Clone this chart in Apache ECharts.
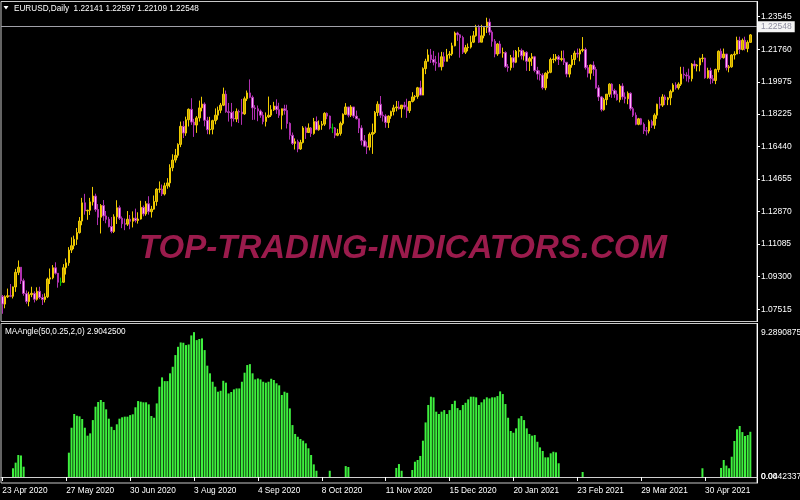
<!DOCTYPE html>
<html>
<head>
<meta charset="utf-8">
<script src="https://cdn.jsdelivr.net/npm/echarts@6/dist/echarts.min.js"></script>
<style>
html,body{margin:0;padding:0;background:#000;}
#chart{width:800px;height:500px;}
</style>
</head>
<body>
<div id="chart"></div>
<script>
// ---- calendar (trading days; broker closed on these two dates) ----
const firstDay = [2020, 3, 23];
const closedDays = ['2020-12-25', '2021-01-01'];
const slotCount = 284;
const monthNames = ['Jan','Feb','Mar','Apr','May','Jun','Jul','Aug','Sep','Oct','Nov','Dec'];

// ---- EURUSD daily candles ----
const opens = [
1.0822,1.0780,1.0820,1.0826,1.0823,1.0874,1.0954,1.0982,1.0908,1.0838,
1.0794,1.0832,1.0839,1.0806,1.0850,1.0816,1.0805,1.0820,1.0917,1.0924,
1.0979,1.0949,1.0900,1.0900,1.0979,1.1006,1.1076,1.1100,1.1135,1.1172,
1.1235,1.1335,1.1291,1.1294,1.1340,1.1372,1.1298,1.1256,1.1320,1.1263,
1.1245,1.1205,1.1178,1.1258,1.1308,1.1250,1.1220,1.1218,1.1245,1.1234,
1.1251,1.1238,1.1246,1.1310,1.1274,1.1330,1.1286,1.1300,1.1342,1.1409,
1.1410,1.1383,1.1428,1.1444,1.1527,1.1569,1.1595,1.1655,1.1754,1.1717,
1.1790,1.1847,1.1777,1.1761,1.1800,1.1855,1.1876,1.1787,1.1735,1.1738,
1.1785,1.1815,1.1842,1.1870,1.1930,1.1834,1.1830,1.1797,1.1794,1.1835,
1.1832,1.1822,1.1905,1.1937,1.1913,1.1855,1.1850,1.1838,1.1815,1.1780,
1.1805,1.1815,1.1845,1.1865,1.1845,1.1815,1.1850,1.1840,1.1770,1.1705,
1.1660,1.1670,1.1630,1.1665,1.1745,1.1720,1.1745,1.1715,1.1780,1.1735,
1.1760,1.1766,1.1825,1.1810,1.1745,1.1745,1.1705,1.1715,1.1770,1.1820,
1.1860,1.1815,1.1860,1.1810,1.1795,1.1745,1.1675,1.1645,1.1640,1.1710,
1.1720,1.1830,1.1875,1.1815,1.1810,1.1775,1.1810,1.1835,1.1855,1.1860,
1.1850,1.1870,1.1860,1.1840,1.1890,1.1915,1.1918,1.1965,1.1925,1.2070,
1.2110,1.2145,1.2120,1.2105,1.2100,1.2080,1.2135,1.2110,1.2145,1.2150,
1.2195,1.2265,1.2255,1.2240,1.2160,1.2185,1.2188,1.2215,1.2250,1.2295,
1.2215,1.2250,1.2295,1.2325,1.2270,1.2220,1.2150,1.2205,1.2155,1.2158,
1.2080,1.2075,1.2130,1.2105,1.2165,1.2170,1.2140,1.2160,1.2110,1.2125,
1.2135,1.2060,1.2040,1.2035,1.1965,1.2045,1.2050,1.2120,1.2123,1.2135,
1.2120,1.2125,1.2105,1.2040,1.2090,1.2120,1.2155,1.2150,1.2170,1.2175,
1.2075,1.2045,1.2090,1.2065,1.1965,1.1915,1.1845,1.1900,1.1930,1.1985,
1.1950,1.1930,1.1900,1.1975,1.1915,1.1905,1.1935,1.1850,1.1815,1.1765,
1.1795,1.1765,1.1730,1.1728,1.1780,1.1760,1.1815,1.1875,1.1870,1.1915,
1.1900,1.1910,1.1945,1.1980,1.1965,1.1985,1.2040,1.2035,1.2030,1.2015,
1.2095,1.2085,1.2090,1.2125,1.2128,1.2020,1.2060,1.2015,1.2005,1.2065,
1.2165,1.2130,1.2150,1.2075,1.2080,1.2145,1.2150,1.2225,1.2175,1.2225,
1.2180,1.22141];
const highs = [
1.0830,1.0828,1.0865,1.0890,1.0876,1.0973,1.1019,1.0982,1.0920,1.0855,
1.0848,1.0875,1.0850,1.0872,1.0875,1.0834,1.0839,1.0925,1.0975,1.0994,
1.1009,1.0950,1.0925,1.0999,1.1030,1.1092,1.1146,1.1155,1.1197,1.1257,
1.1362,1.1384,1.1297,1.1362,1.1422,1.1385,1.1328,1.1328,1.1350,1.1290,
1.1258,1.1257,1.1272,1.1349,1.1320,1.1260,1.1249,1.1290,1.1268,1.1288,
1.1303,1.1283,1.1346,1.1320,1.1344,1.1371,1.1318,1.1375,1.1415,1.1452,
1.1435,1.1445,1.1470,1.1546,1.1601,1.1630,1.1661,1.1780,1.1782,1.1807,
1.1852,1.1908,1.1795,1.1810,1.1895,1.1916,1.1885,1.1806,1.1806,1.1790,
1.1852,1.1862,1.1882,1.1966,1.1950,1.1882,1.1882,1.1838,1.1852,1.1845,
1.1904,1.1917,1.1950,1.2011,1.1923,1.1870,1.1868,1.1846,1.1833,1.1830,
1.1917,1.1870,1.1888,1.1902,1.1883,1.1851,1.1872,1.1872,1.1776,1.1720,
1.1688,1.1681,1.1680,1.1755,1.1753,1.1770,1.1750,1.1800,1.1808,1.1786,
1.1783,1.1831,1.1830,1.1813,1.1769,1.1750,1.1740,1.1780,1.1825,1.1881,
1.1860,1.1870,1.1860,1.1840,1.1795,1.1760,1.1706,1.1670,1.1720,1.1769,
1.1838,1.1891,1.1920,1.1835,1.1820,1.1814,1.1840,1.1872,1.1893,1.1892,
1.1867,1.1888,1.1905,1.1893,1.1941,1.1925,1.1970,1.2004,1.2077,1.2124,
1.2176,1.2178,1.2167,1.2140,1.2158,1.2162,1.2160,1.2178,1.2166,1.2212,
1.2273,1.2272,1.2259,1.2250,1.2200,1.2208,1.2250,1.2276,1.2310,1.2310,
1.2310,1.2300,1.2349,1.2344,1.2280,1.2232,1.2210,1.2222,1.2185,1.2165,
1.2095,1.2145,1.2170,1.2172,1.2188,1.2180,1.2170,1.2165,1.2135,1.2155,
1.2140,1.2080,1.2060,1.2045,1.2050,1.2060,1.2130,1.2150,1.2150,1.2145,
1.2168,1.2170,1.2105,1.2094,1.2145,1.2168,1.2180,1.2180,1.2243,1.2185,
1.2090,1.2092,1.2110,1.2080,1.1980,1.1920,1.1910,1.1930,1.1990,1.1990,
1.1960,1.1950,1.1985,1.1990,1.1940,1.1945,1.1940,1.1860,1.1830,1.1800,
1.1800,1.1775,1.1750,1.1790,1.1790,1.1825,1.1878,1.1915,1.1930,1.1927,
1.1915,1.1955,1.1990,1.1995,1.1995,1.2080,1.2080,1.2050,1.2070,1.2100,
1.2115,1.2095,1.2130,1.2150,1.2130,1.2075,1.2075,1.2035,1.2070,1.2170,
1.2180,1.2180,1.2150,1.2090,1.2150,1.2165,1.2245,1.2245,1.2235,1.2245,
1.2225,1.22597];
const lows = [
1.0727,1.0757,1.0813,1.0818,1.0811,1.0847,1.0939,1.0890,1.0826,1.0782,
1.0768,1.0818,1.0789,1.0799,1.0807,1.0775,1.0789,1.0813,1.0890,1.0916,
1.0942,1.0870,1.0880,1.0896,1.0942,1.0990,1.1060,1.1081,1.1104,1.1166,
1.1212,1.1270,1.1242,1.1268,1.1320,1.1286,1.1213,1.1167,1.1236,1.1223,
1.1200,1.1168,1.1170,1.1219,1.1241,1.1196,1.1185,1.1208,1.1190,1.1200,
1.1227,1.1221,1.1243,1.1261,1.1264,1.1270,1.1254,1.1297,1.1319,1.1390,
1.1372,1.1375,1.1412,1.1420,1.1508,1.1555,1.1582,1.1640,1.1690,1.1702,
1.1753,1.1762,1.1696,1.1718,1.1780,1.1836,1.1754,1.1711,1.1710,1.1710,
1.1765,1.1790,1.1826,1.1865,1.1828,1.1780,1.1753,1.1780,1.1777,1.1772,
1.1762,1.1817,1.1893,1.1908,1.1789,1.1790,1.1782,1.1801,1.1765,1.1753,
1.1800,1.1805,1.1838,1.1822,1.1800,1.1737,1.1818,1.1742,1.1681,1.1652,
1.1627,1.1612,1.1625,1.1660,1.1685,1.1718,1.1696,1.1708,1.1735,1.1730,
1.1735,1.1756,1.1793,1.1737,1.1717,1.1689,1.1700,1.1703,1.1760,1.1817,
1.1803,1.1805,1.1800,1.1792,1.1717,1.1650,1.1640,1.1602,1.1622,1.1603,
1.1712,1.1810,1.1800,1.1780,1.1746,1.1745,1.1795,1.1814,1.1836,1.1846,
1.1801,1.1846,1.1800,1.1827,1.1885,1.1895,1.1905,1.1924,1.1925,1.2040,
1.2110,1.2101,1.2088,1.2058,1.2078,1.2060,1.2080,1.2110,1.2125,1.2140,
1.2192,1.2222,1.2130,1.2150,1.2150,1.2165,1.2180,1.2210,1.2245,1.2210,
1.2215,1.2236,1.2265,1.2253,1.2190,1.2132,1.2140,1.2150,1.2130,1.2075,
1.2053,1.2060,1.2075,1.2100,1.2132,1.2120,1.2115,1.2058,1.2057,1.2085,
1.2050,1.2010,1.2005,1.1955,1.1952,1.2015,1.2045,1.2100,1.2110,1.2090,
1.2110,1.2090,1.2023,1.2022,1.2075,1.2090,1.2130,1.2110,1.2160,1.2065,
1.2022,1.2010,1.2030,1.1960,1.1893,1.1835,1.1840,1.1870,1.1915,1.1910,
1.1910,1.1895,1.1885,1.1900,1.1880,1.1875,1.1840,1.1805,1.1760,1.1760,
1.1760,1.1712,1.1704,1.1715,1.1745,1.1740,1.1795,1.1850,1.1860,1.1870,
1.1870,1.1870,1.1940,1.1955,1.1955,1.1975,1.2015,1.2000,1.1995,1.2000,
1.2070,1.2055,1.2055,1.2105,1.2015,1.2015,1.1985,1.1990,1.1985,1.2050,
1.2120,1.2125,1.2060,1.2050,1.2075,1.2120,1.2150,1.2150,1.2170,1.2170,
1.2160,1.22109];
const closes = [
1.0780,1.0820,1.0826,1.0823,1.0874,1.0954,1.0982,1.0908,1.0838,1.0794,
1.0832,1.0839,1.0806,1.0850,1.0816,1.0805,1.0820,1.0917,1.0924,1.0979,
1.0949,1.0900,1.0900,1.0979,1.1006,1.1076,1.1100,1.1135,1.1172,1.1235,
1.1335,1.1291,1.1294,1.1340,1.1372,1.1298,1.1256,1.1320,1.1263,1.1245,
1.1205,1.1178,1.1258,1.1308,1.1250,1.1220,1.1218,1.1245,1.1234,1.1251,
1.1238,1.1246,1.1310,1.1274,1.1330,1.1286,1.1300,1.1342,1.1409,1.1410,
1.1383,1.1428,1.1444,1.1527,1.1569,1.1595,1.1655,1.1754,1.1717,1.1790,
1.1847,1.1777,1.1761,1.1800,1.1855,1.1876,1.1787,1.1735,1.1738,1.1785,
1.1815,1.1842,1.1870,1.1930,1.1834,1.1830,1.1797,1.1794,1.1835,1.1832,
1.1822,1.1905,1.1937,1.1913,1.1855,1.1850,1.1838,1.1815,1.1780,1.1805,
1.1815,1.1845,1.1865,1.1845,1.1815,1.1850,1.1840,1.1770,1.1705,1.1660,
1.1670,1.1630,1.1665,1.1745,1.1720,1.1745,1.1715,1.1780,1.1735,1.1760,
1.1766,1.1825,1.1810,1.1745,1.1745,1.1705,1.1715,1.1770,1.1820,1.1860,
1.1815,1.1860,1.1810,1.1795,1.1745,1.1675,1.1645,1.1640,1.1710,1.1720,
1.1830,1.1875,1.1815,1.1810,1.1775,1.1810,1.1835,1.1855,1.1860,1.1850,
1.1870,1.1860,1.1840,1.1890,1.1915,1.1918,1.1965,1.1925,1.2070,1.2110,
1.2145,1.2120,1.2105,1.2100,1.2080,1.2135,1.2110,1.2145,1.2150,1.2195,
1.2265,1.2255,1.2240,1.2160,1.2185,1.2188,1.2215,1.2250,1.2295,1.2215,
1.2250,1.2295,1.2325,1.2270,1.2220,1.2150,1.2205,1.2155,1.2158,1.2080,
1.2075,1.2130,1.2105,1.2165,1.2170,1.2140,1.2160,1.2110,1.2125,1.2135,
1.2060,1.2040,1.2035,1.1965,1.2045,1.2050,1.2120,1.2123,1.2135,1.2120,
1.2125,1.2105,1.2040,1.2090,1.2120,1.2155,1.2150,1.2170,1.2175,1.2075,
1.2045,1.2090,1.2065,1.1965,1.1915,1.1845,1.1900,1.1930,1.1985,1.1950,
1.1930,1.1900,1.1975,1.1915,1.1905,1.1935,1.1850,1.1815,1.1765,1.1795,
1.1765,1.1730,1.1728,1.1780,1.1760,1.1815,1.1875,1.1870,1.1915,1.1900,
1.1910,1.1945,1.1980,1.1965,1.1985,1.2040,1.2035,1.2030,1.2015,1.2095,
1.2085,1.2090,1.2125,1.2128,1.2020,1.2060,1.2015,1.2005,1.2065,1.2165,
1.2130,1.2150,1.2075,1.2080,1.2145,1.2150,1.2225,1.2175,1.2225,1.2180,
1.2214,1.22548];

// ---- MAAngle(50,0.25,2,0) histogram ----
const maAngle = [
0,0,0,0,0.56,0.92,1.41,1.38,0.66,0,
0,0,0,0,0,0,0,0,0,0,
0,0,0,0,0,1.56,3.16,4.04,3.93,3.89,
3.72,3.16,2.65,2.80,3.65,4.51,4.81,4.94,4.81,4.34,
3.74,3.22,3.01,3.38,3.74,3.83,3.87,3.87,3.97,4.02,
4.47,4.87,4.83,4.79,4.79,4.66,3.91,3.80,4.72,5.79,
6.39,6.15,6.15,6.65,7.07,7.82,8.35,8.63,8.61,8.46,
8.50,9.08,9.29,8.78,8.85,8.89,8.14,7.14,6.65,6.11,
5.79,5.47,5.53,6.17,6.05,5.36,5.45,5.62,5.68,5.68,
6.11,6.69,7.18,7.24,6.65,6.26,6.32,6.26,6.11,6.05,
6.11,6.30,6.22,6.01,5.88,5.26,5.47,5.40,4.40,3.33,
2.76,2.58,2.44,2.33,2.16,1.84,1.41,0.81,0.40,0,
0,0,0,0.40,0,0,0,0,0,0.70,
0.64,0,0,0,0,0,0,0,0,0,
0,0,0,0,0,0,0,0,0.58,0.83,
0.40,0,0,0,0.45,0.98,1.09,1.35,2.33,3.50,
4.62,5.15,5.11,4.19,4.04,4.19,4.29,4.04,4.29,4.68,
4.89,4.42,4.29,4.62,4.76,4.98,5.15,5.15,5.11,4.62,
4.79,4.98,5.11,5.04,5.11,5.11,5.19,5.49,5.32,4.68,
3.80,2.95,2.84,3.12,3.76,3.91,3.65,3.12,2.76,2.65,
2.69,2.26,1.90,1.67,1.26,1.26,1.52,1.62,1.58,0.88,
0,0,0,0,0,0,0,0,0.32,0,
0,0,0,0,0,0,0,0,0,0,
0,0,0,0,0,0,0,0,0,0,
0,0,0,0,0,0,0,0,0,0,
0,0,0,0,0,0,0,0,0,0,
0,0,0,0.56,0,0,0,0,0,0,
0.58,1.09,0.73,0.56,1.30,2.31,3.06,3.27,2.88,2.63,
2.69,2.90];

// ---- axis tick labels ----
const priceTicks = [1.07515,1.09300,1.11085,1.12870,1.14655,1.16440,1.18225,1.19975,1.21760,1.23545];
const indTicks = [0.0442337, 9.2890875];
const indZeroLevel = [0];
const dateLabelEvery = 24;

const titleMain = 'EURUSD,Daily  1.22141 1.22597 1.22109 1.22548';
const titleInd = 'MAAngle(50,0.25,2,0) 2.9042500';
const watermark = 'TOP-TRADING-INDICATORS.COM';

// build categories
const categories = [];
{
  const d = new Date(Date.UTC(firstDay[0], firstDay[1], firstDay[2]));
  while (categories.length < slotCount) {
    const wd = d.getUTCDay();
    const iso = d.toISOString().slice(0, 10);
    if (wd !== 0 && wd !== 6 && closedDays.indexOf(iso) < 0) {
      categories.push(d.getUTCDate() + ' ' + monthNames[d.getUTCMonth()] + ' ' + d.getUTCFullYear());
    }
    d.setUTCDate(d.getUTCDate() + 1);
  }
}

const dojiGreen = '#00c000';
const candleData = opens.map((o, i) => {
  const item = { value: [o, closes[i], lows[i], highs[i]] };
  if (o === closes[i]) {
    item.itemStyle = { color: dojiGreen, color0: dojiGreen, borderColor: dojiGreen, borderColor0: dojiGreen, borderColorDoji: dojiGreen };
  }
  return item;
});
const indData = maAngle.map(v => (v === 0 ? '-' : v));
const lastClose = closes[closes.length - 1];

const FONT = '"Liberation Sans", Arial, sans-serif';

const chart = echarts.init(document.getElementById('chart'), null, { renderer: 'canvas' });
chart.setOption({
  backgroundColor: '#000000',
  animation: false,
  grid: [
    { left: 1, top: 1.5, width: 756, height: 320, show: true, borderColor: '#c8c8c8', borderWidth: 1, backgroundColor: 'transparent', containLabel: false, outerBoundsMode: 'none' },
    { left: 1, top: 323.5, width: 756, height: 159.5, show: true, borderColor: '#c8c8c8', borderWidth: 1, backgroundColor: 'transparent', containLabel: false, outerBoundsMode: 'none' }
  ],
  xAxis: [
    { type: 'category', gridIndex: 0, data: categories, boundaryGap: true,
      axisLine: { show: false }, axisTick: { show: false }, axisLabel: { show: false }, splitLine: { show: false } },
    { type: 'category', gridIndex: 1, data: categories, boundaryGap: true,
      axisLine: { show: true, lineStyle: { color: '#d0d0d0', width: 1 } },
      axisTick: { show: true, alignWithLabel: true, length: 4, interval: (i) => i % dateLabelEvery === 0, lineStyle: { color: '#ffffff' } },
      axisLabel: { show: true, interval: (i) => i % dateLabelEvery === 0, color: '#ffffff', fontFamily: FONT, fontSize: 8.3, align: 'left', margin: 4 },
      splitLine: { show: false } }
  ],
  yAxis: [
    { type: 'value', gridIndex: 0, position: 'right', min: 1.06847, max: 1.24378, scale: true,
      splitLine: { show: false },
      axisLine: { show: true, lineStyle: { color: '#ffffff' } },
      axisTick: { show: true, length: 3, customValues: priceTicks, lineStyle: { color: '#ffffff' } },
      axisLabel: { show: true, customValues: priceTicks, formatter: (v) => v.toFixed(5), color: '#ffffff', fontFamily: FONT, fontSize: 8.5, margin: 4 } },
    { type: 'value', gridIndex: 1, position: 'right', min: -0.385, max: 9.845,
      splitLine: { show: false },
      axisLine: { show: true, lineStyle: { color: '#ffffff' } },
      axisTick: { show: false },
      axisLabel: { show: true, customValues: indTicks, hideOverlap: false, formatter: (v) => v.toFixed(7), color: '#ffffff', fontFamily: FONT, fontSize: 8.5, margin: 4 } },
    { type: 'value', gridIndex: 1, position: 'right', min: -0.385, max: 9.845,
      splitLine: { show: false }, axisLine: { show: false }, axisTick: { show: false },
      axisLabel: { show: true, customValues: indZeroLevel, formatter: (v) => v.toFixed(2), color: '#ffffff', fontFamily: FONT, fontSize: 8.5, margin: 4 } }
  ],
  graphic: [
    { type: 'text', z: 0, silent: true,
      style: { text: watermark, x: 403, y: 249, align: 'center', verticalAlign: 'middle', fill: '#9a1b4c',
        font: 'italic bold 33px "Liberation Sans", Arial, sans-serif' } },
    { type: 'polygon', z: 10, silent: true, shape: { points: [[3.5, 6], [8.5, 6], [6, 9.5]] }, style: { fill: '#ffffff' } },
    { type: 'text', z: 10, silent: true,
      style: { text: titleMain, x: 14, y: 8.5, align: 'left', verticalAlign: 'middle', fill: '#ffffff', font: '8.2px ' + FONT } },
    { type: 'text', z: 10, silent: true,
      style: { text: titleInd, x: 5, y: 331.5, align: 'left', verticalAlign: 'middle', fill: '#ffffff', font: '8.2px ' + FONT } }
  ],
  series: [
    { type: 'candlestick', xAxisIndex: 0, yAxisIndex: 0, data: candleData, barWidth: 2,
      itemStyle: { color: '#c8a400', color0: '#ffb4ff', borderColor: '#f0cc00', borderColor0: '#b030b0', borderWidth: 1 },
      markLine: { symbol: 'none', silent: true, animation: false,
        data: [{ yAxis: lastClose }],
        lineStyle: { color: '#a0a0a8', width: 1, type: 'solid' },
        label: { position: 'end', formatter: lastClose.toFixed(5), color: '#8e8ea0', backgroundColor: '#f4f4f4',
          fontFamily: FONT, fontSize: 8.5, padding: [1, 3, 1, 3], distance: 1 } } },
    { type: 'bar', xAxisIndex: 1, yAxisIndex: 1, data: indData, barWidth: 2,
      itemStyle: { color: '#3ef03e' } }
  ]
});
</script>
</body>
</html>
